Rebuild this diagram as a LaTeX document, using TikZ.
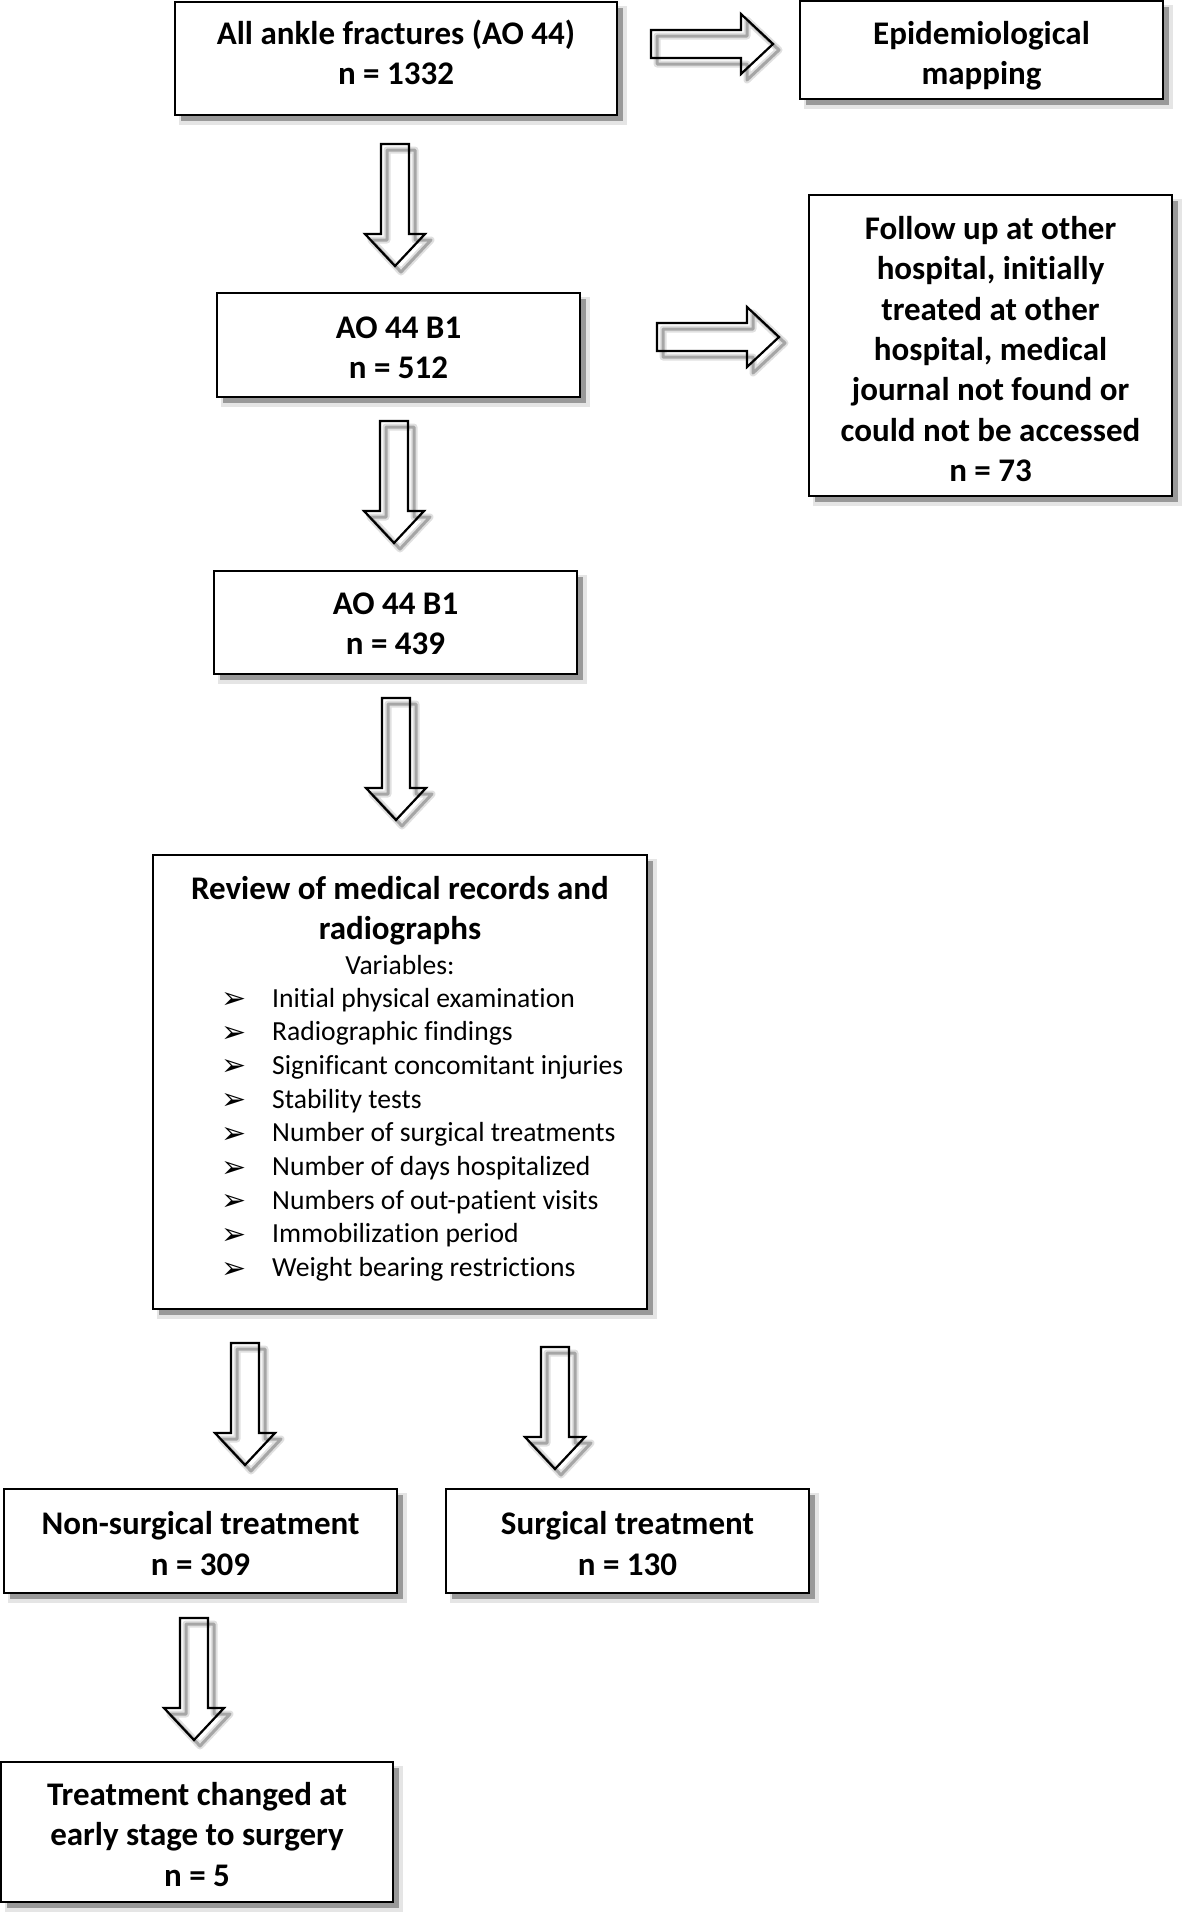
\documentclass[tikz,border=0pt]{standalone}
\usepackage{fontspec}
\setmainfont{Carlito}[Ligatures=NoCommon]
\newfontfamily\symfont{DejaVu Sans}
\usetikzlibrary{shadows}
\newcommand\blockdown[3]{% name, cx, top
  \draw[line width=7pt, black!12, line join=round] (#2+6,#3+6) ++(-14,0) -- ++(0,90) -- ++(-16,0) -- ++(30,32) -- ++(30,-32) -- ++(-16,0) -- ++(0,-90) -- cycle;
  \draw[line width=3pt, black!35, line join=round] (#2+6,#3+6) ++(-14,0) -- ++(0,90) -- ++(-16,0) -- ++(30,32) -- ++(30,-32) -- ++(-16,0) -- ++(0,-90) -- cycle;
  \coordinate (#1) at (#2,#3);
  \draw[blockarrow] (#1) ++(-14,0) -- ++(0,90) -- ++(-16,0) -- ++(30,32) -- ++(30,-32) -- ++(-16,0) -- ++(0,-90) -- cycle;
}
\newcommand\blockright[3]{% name, left, cy
  \draw[line width=7pt, black!12, line join=round] (#2+6,#3+6) ++(0,-14) -- ++(90,0) -- ++(0,-16) -- ++(32,30) -- ++(-32,30) -- ++(0,-16) -- ++(-90,0) -- cycle;
  \draw[line width=3pt, black!35, line join=round] (#2+6,#3+6) ++(0,-14) -- ++(90,0) -- ++(0,-16) -- ++(32,30) -- ++(-32,30) -- ++(0,-16) -- ++(-90,0) -- cycle;
  \coordinate (#1) at (#2,#3);
  \draw[blockarrow] (#1) ++(0,-14) -- ++(90,0) -- ++(0,-16) -- ++(32,30) -- ++(-32,30) -- ++(0,-16) -- ++(-90,0) -- cycle;
}
\begin{document}
\begin{tikzpicture}[x=1pt,y=-1pt,
  box/.style={draw=black, line width=2pt, fill=white, inner sep=0pt,
    general shadow={fill=black!12, draw=black!10, line width=6pt, shadow xshift=7pt, shadow yshift=-7pt},
    general shadow={fill=black!40, shadow xshift=6pt, shadow yshift=-6pt}},
  btext/.style={align=center, inner sep=0pt, font=\bfseries\fontsize{33}{40.3}\selectfont},
  blockarrow/.style={draw=black, line width=2.2pt, line join=miter},
  vartext/.style={font=\fontsize{27.6}{33.7}\selectfont, inner sep=0pt},
  item/.style={vartext, anchor=west, text height=19pt, text depth=6pt},
  bul/.style={inner sep=0pt, font=\symfont\fontsize{30}{30}\selectfont}]
\useasboundingbox (0,0) rectangle (1183,1915);

\node[box, minimum width=442, minimum height=113] (b1) at (396,58.5) {};
\node[btext] (b1t) at (396,52.5) {All ankle fractures (AO 44)\\n = 1332};
\node[box, minimum width=363, minimum height=98] (epi) at (981.5,50) {};
\node[btext] (epit) at (981.5,56) {Epidemiological\\mapping};
\node[box, minimum width=363, minimum height=104] (b2) at (398.5,345) {};
\node[btext] (b2t) at (398.5,347.5) {AO 44 B1\\n = 512};
\node[box, minimum width=363, minimum height=301] (fol) at (990.5,345.5) {};
\node[btext] (folt) at (990.5,349) {Follow up at other\\hospital, initially\\treated at other\\hospital, medical\\journal not found or\\could not be accessed\\n = 73};
\node[box, minimum width=363, minimum height=103] (b3) at (395.5,622.5) {};
\node[btext] (b3t) at (395.5,624) {AO 44 B1\\n = 439};
\node[box, minimum width=494, minimum height=454] (rev) at (400,1082) {};
\node[box, minimum width=393, minimum height=104] (non) at (200.5,1541) {};
\node[btext] (nont) at (200.5,1543.5) {Non-surgical treatment\\n = 309};
\node[box, minimum width=363, minimum height=104] (sur) at (627.5,1541) {};
\node[btext] (surt) at (627.5,1543.5) {Surgical treatment\\n = 130};
\node[box, minimum width=392, minimum height=140] (chg) at (197,1832) {};
\node[btext] (chgt) at (197,1834.5) {Treatment changed at\\early stage to surgery\\n = 5};

\node[btext] (revt) at (400,910.5) {Review of medical records and\\radiographs};
\node[vartext] (vars) at (400,965) {Variables:};
\foreach \t [count=\i from 0] in {Initial physical examination, Radiographic findings, Significant concomitant injuries, Stability tests, Number of surgical treatments, Number of days hospitalized, Numbers of out-patient visits, Immobilization period, Weight bearing restrictions}{
  \node[bul] (bu\i) at (234,1000.5+33.7*\i) {➢};
  \node[item] (it\i) at (272,1000.5+33.7*\i) {\t};
}

\blockright{r1}{651}{44}
\blockright{r2}{657}{337}
\blockdown{a1}{395}{144}
\blockdown{a2}{394}{421}
\blockdown{a3}{396}{698}
\blockdown{a4}{245}{1343}
\blockdown{a5}{555}{1347}
\blockdown{a6}{194}{1618}
\end{tikzpicture}
\end{document}
